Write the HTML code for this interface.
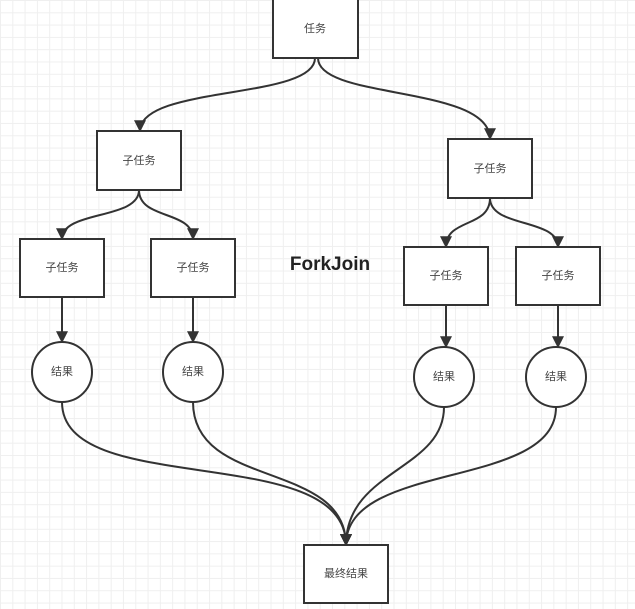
<!DOCTYPE html>
<html><head><meta charset="utf-8"><style>
body{margin:0;width:635px;height:609px;overflow:hidden;background:#fff;
background-image:linear-gradient(#efefef 1px,transparent 1px),linear-gradient(90deg,#efefef 1px,transparent 1px);background-size:12.3px 12.3px;}
svg{position:absolute;left:0;top:0}
text{font-family:"Liberation Sans","Noto Sans CJK SC",sans-serif;font-size:11px;fill:#444;text-anchor:middle;dominant-baseline:middle}
</style></head><body>
<svg width="635" height="609" viewBox="0 0 635 609">
<defs><marker id="a" viewBox="0 0 10 10" refX="9" refY="5" markerWidth="6" markerHeight="7" orient="auto"><path d="M0,0L10,5L0,10z" fill="#333"/></marker></defs>
<g fill="none" stroke="#333" stroke-width="2" marker-end="url(#a)">
<path d="M315,58C315,100 140,85 140,131"/>
<path d="M318,58C318,100 490,85 490,139"/>
<path d="M139,190C139,220 62,210 62,239"/>
<path d="M139,190C139,220 193,210 193,239"/>
<path d="M490,198C490,228 446,218 446,247"/>
<path d="M490,198C490,228 558,218 558,247"/>
<path d="M62,297L62,342"/>
<path d="M193,297L193,342"/>
<path d="M446,305L446,347"/>
<path d="M558,305L558,347"/>
<path d="M62,402C62,500 346,440 346,545"/>
<path d="M193,402C193,490 346,460 346,545"/>
<path d="M444,407C444,470 346,470 346,545"/>
<path d="M556,407C556,490 346,460 346,545"/>
</g>
<g fill="#fff" stroke="#333" stroke-width="2">
<rect x="273" y="-1" width="85" height="59"/>
<rect x="97" y="131" width="84" height="59"/>
<rect x="448" y="139" width="84" height="59"/>
<rect x="20" y="239" width="84" height="58"/>
<rect x="151" y="239" width="84" height="58"/>
<rect x="404" y="247" width="84" height="58"/>
<rect x="516" y="247" width="84" height="58"/>
<circle cx="62" cy="372" r="30"/>
<circle cx="193" cy="372" r="30"/>
<circle cx="444" cy="377" r="30"/>
<circle cx="556" cy="377" r="30"/>
<rect x="304" y="545" width="84" height="58"/>
</g>
<text x="315" y="29">任务</text>
<text x="139" y="161">子任务</text>
<text x="490" y="169">子任务</text>
<text x="62" y="268">子任务</text>
<text x="193" y="268">子任务</text>
<text x="446" y="276">子任务</text>
<text x="558" y="276">子任务</text>
<text x="62" y="372">结果</text>
<text x="193" y="372">结果</text>
<text x="444" y="377">结果</text>
<text x="556" y="377">结果</text>
<text x="346" y="574">最终结果</text>
<text x="330" y="265" style="font-size:19px;font-weight:bold;fill:#222">ForkJoin</text>
</svg>
</body></html>
